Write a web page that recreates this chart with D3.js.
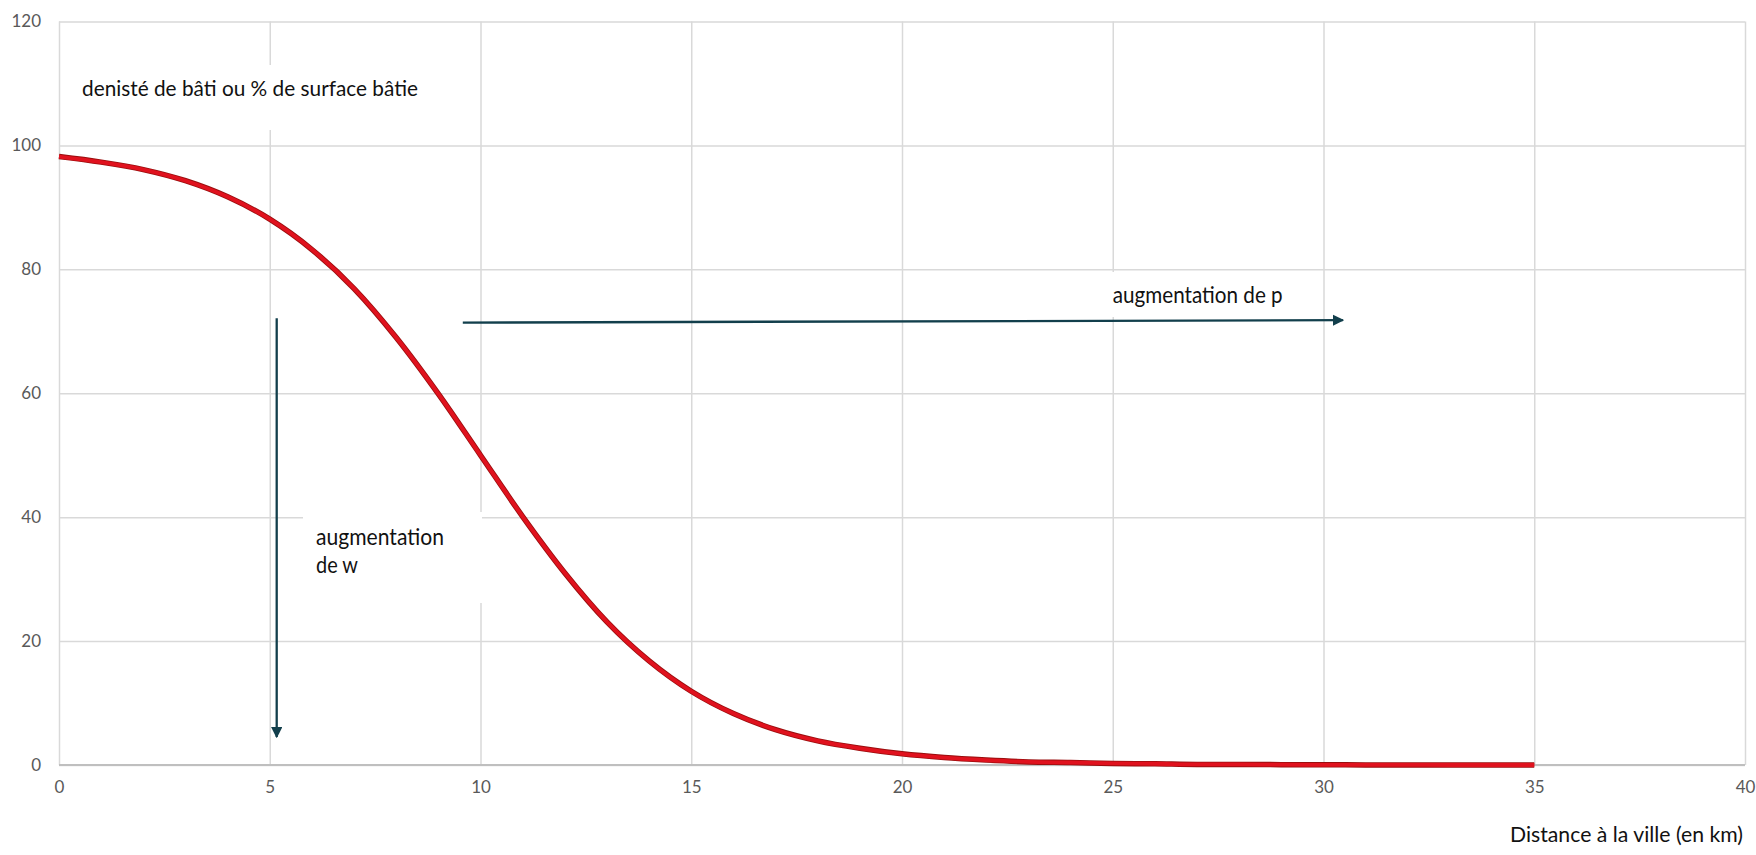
<!DOCTYPE html>
<html>
<head>
<meta charset="utf-8">
<script src="https://cdn.jsdelivr.net/npm/d3@7"></script>
<style>
  html, body { margin: 0; padding: 0; background: #ffffff; }
  svg { display: block; }
  text { font-family: Lato, "Noto Sans", sans-serif; }
</style>
</head>
<body>
<svg id="chart" width="1756" height="855"></svg>
<script>
// ---- data ----
const distanceKm = [0,1,2,3,4,5,6,7,8,9,10,11,12,13,14,15,16,17,18,19,20,21,22,23,24,25,26,27,28,29,30,31,32,33,34,35];
const densite    = [98.2,97.3,96.1,94.3,91.7,88.1,83.2,76.9,69.0,59.9,50.0,40.1,31.0,23.1,16.8,11.9,8.3,5.7,3.9,2.7,1.8,1.2,0.8,0.5,0.4,0.25,0.2,0.1,0.1,0.05,0.03,0.02,0.01,0,0,0];
const xTicks = [0,5,10,15,20,25,30,35,40];
const yTicks = [0,20,40,60,80,100,120];
const xLabel = "Distance à la ville (en km)";
const yLabel = "denisté de bâti ou % de surface bâtie";
const arrowW = [[5.165, 72.1], [5.165, 4.5]];   // vertical arrow (data units)
const arrowP = [[9.58, 71.4], [30.46, 71.8]];   // horizontal arrow (data units)
const labelW = ["augmentation", "de w"];
const labelP = "augmentation de p";

// ---- scales ----
const svg = d3.select("#chart");
const x = d3.scaleLinear().domain([0, 40]).range([59, 1745]);
const y = d3.scaleLinear().domain([0, 120]).range([765, 21.5]);

// ---- grid via axes ----
const gx = svg.append("g").attr("transform", `translate(0,${y(0)})`)
  .call(d3.axisBottom(x).tickValues(xTicks).tickSize(-(y(0) - y(120))).tickPadding(16).tickFormat(d3.format("d")));
gx.select(".domain").remove();
gx.selectAll(".tick line").attr("stroke", "#d9d9d9").attr("stroke-width", 1.5);
gx.selectAll(".tick text").attr("fill", "#595959").style("font-size", "17px").style("font-family", "Lato, sans-serif");

const gy = svg.append("g").attr("transform", `translate(${x(0)},0)`)
  .call(d3.axisLeft(y).tickValues(yTicks).tickSize(-(x(40) - x(0))).tickPadding(18).tickFormat(d3.format("d")));
gy.select(".domain").remove();
gy.selectAll(".tick line").attr("stroke", "#d9d9d9").attr("stroke-width", 1.5);
gy.selectAll(".tick text").attr("fill", "#595959").style("font-size", "17px").style("font-family", "Lato, sans-serif");

// bottom axis line
svg.append("line")
  .attr("x1", x(0)).attr("x2", x(40)).attr("y1", y(0)).attr("y2", y(0))
  .attr("stroke", "#bfbfbf").attr("stroke-width", 2.2);

// ---- white label boxes (covering gridlines, as in the original) ----
svg.append("rect").attr("x", 70).attr("y", 65).attr("width", 360).attr("height", 65).attr("fill", "#fff");
svg.append("rect").attr("x", 303).attr("y", 512).attr("width", 179).attr("height", 91).attr("fill", "#fff");
svg.append("rect").attr("x", 1100).attr("y", 272).attr("width", 215).attr("height", 45).attr("fill", "#fff");

// ---- arrows ----
const defs = svg.append("defs");
defs.append("marker").attr("id", "arrowHead")
  .attr("viewBox", "0 0 10 10").attr("refX", 9).attr("refY", 5)
  .attr("markerWidth", 5).attr("markerHeight", 5).attr("markerUnits", "strokeWidth")
  .attr("orient", "auto")
  .append("path").attr("d", "M0,0 L10,5 L0,10 Z").attr("fill", "#123f4c");

const arrowLine = d3.line().x(d => x(d[0])).y(d => y(d[1]));
[arrowW, arrowP].forEach(a => {
  svg.append("path").attr("d", arrowLine(a))
    .attr("stroke", "#123f4c").attr("stroke-width", 2.3).attr("fill", "none")
    .attr("marker-end", "url(#arrowHead)");
});

// ---- curve ----
const pts = distanceKm.map((d, i) => [d, densite[i]]);
const curve = d3.line().x(d => x(d[0])).y(d => y(d[1])).curve(d3.curveMonotoneX);
svg.append("path").attr("d", curve(pts)).attr("fill", "none")
  .attr("stroke", "#9a0e0e").attr("stroke-width", 5.5).attr("stroke-linejoin", "round");
svg.append("path").attr("d", curve(pts)).attr("fill", "none")
  .attr("stroke", "#e0121e").attr("stroke-width", 3.8).attr("stroke-linejoin", "round");

// ---- texts ----
svg.append("text").attr("x", 82).attr("y", 96)
  .attr("textLength", 336).attr("lengthAdjust", "spacingAndGlyphs")
  .style("font-size", "22px").attr("fill", "#111").text(yLabel);

svg.append("text").attr("x", 1743).attr("y", 842).attr("text-anchor", "end")
  .attr("textLength", 233).attr("lengthAdjust", "spacingAndGlyphs")
  .style("font-size", "22px").attr("fill", "#111").text(xLabel);

svg.append("text").attr("x", 1112.7).attr("y", 303)
  .attr("textLength", 170).attr("lengthAdjust", "spacingAndGlyphs")
  .style("font-size", "22.5px").attr("fill", "#111").text(labelP);

svg.append("text").attr("x", 316).attr("y", 545)
  .attr("textLength", 128).attr("lengthAdjust", "spacingAndGlyphs")
  .style("font-size", "22.5px").attr("fill", "#111").text(labelW[0]);
svg.append("text").attr("x", 316).attr("y", 572.7)
  .attr("textLength", 42).attr("lengthAdjust", "spacingAndGlyphs")
  .style("font-size", "22.5px").attr("fill", "#111").text(labelW[1]);
</script>
</body>
</html>
